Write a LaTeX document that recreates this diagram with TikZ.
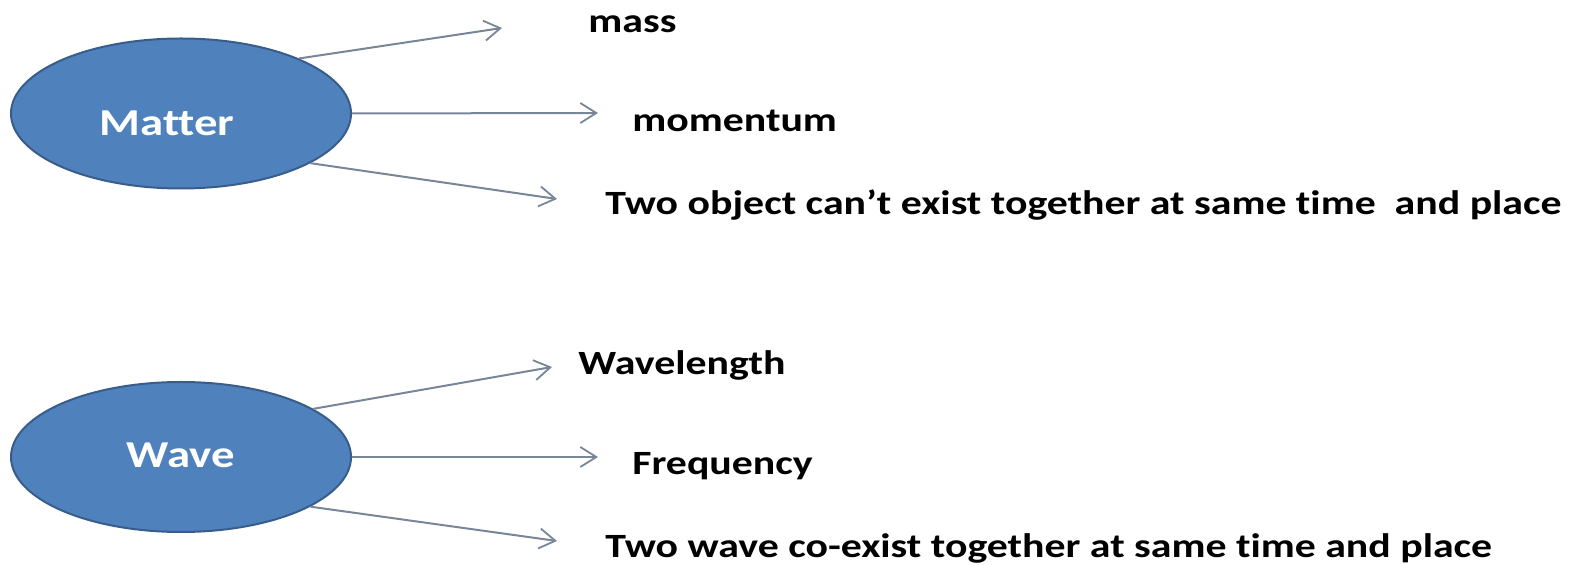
\documentclass[tikz,border=0pt]{standalone}
\usepackage{fontspec}
\setmainfont{Carlito}
\newfontfamily\widefont[FakeStretch=1.23, Ligatures=NoCommon]{Carlito}
\usetikzlibrary{shapes.geometric, arrows.meta}

\definecolor{blobblue}{RGB}{79,129,189}
\definecolor{blobedge}{RGB}{56,93,138}
\definecolor{arrowgray}{RGB}{120,134,152}

\begin{document}
\begin{tikzpicture}[x=0.5pt, y=-0.5pt,
    blob/.style={ellipse, draw=blobedge, fill=blobblue, line width=1pt,
                 minimum width=170pt, minimum height=75pt, inner sep=0pt},
    blobtext/.style={text=white, font=\widefont\fontsize{19}{23}\selectfont\bfseries},
    feature/.style={anchor=base west, inner sep=0pt, font=\widefont\fontsize{17}{20}\selectfont\bfseries},
    link/.style={draw=arrowgray, line width=1pt,
                 -{Straight Barb[length=8pt, width=10pt, line width=0.9pt]}}]
  \useasboundingbox (0,0) rectangle (1572,565);

  % the two ellipses; their labels sit a little off the centre as in the original
  \node[blob, label={[blobtext, xshift=-7pt, yshift=-5pt]center:Matter}] (matter) at (181,113.5) {};
  \node[blob, label={[blobtext, yshift=1pt]center:Wave}] (wave) at (181,457) {};

  % arrow tips
  \coordinate (massend) at (502,28);
  \coordinate (momend) at (598,113);
  \coordinate (placeend) at (557,199);
  \coordinate (lambdaend) at (552,367);
  \coordinate (freqend) at (598,457);
  \coordinate (coexend) at (557,541);

  % properties of matter
  \node[feature] (mass) at (588,33) {mass};
  \node[feature] (momentum) at (632,132) {momentum};
  \node[feature] (exclusion) at (605,215) {Two object can’t exist together at same time~ and place};

  % properties of a wave
  \node[feature] (lambda) at (578,375) {Wavelength};
  \node[feature] (freq) at (632,475) {Frequency};
  \node[feature] (coexist) at (605,558) {Two wave co-exist together at same time and place};

  \draw[link] (matter.25) -- (massend);
  \draw[link] (matter.east) -- (momend);
  \draw[link] (matter.-21) -- (placeend);
  \draw[link] (wave.20) -- (lambdaend);
  \draw[link] (wave.east) -- (freqend);
  \draw[link] (wave.-21) -- (coexend);
\end{tikzpicture}
\end{document}
